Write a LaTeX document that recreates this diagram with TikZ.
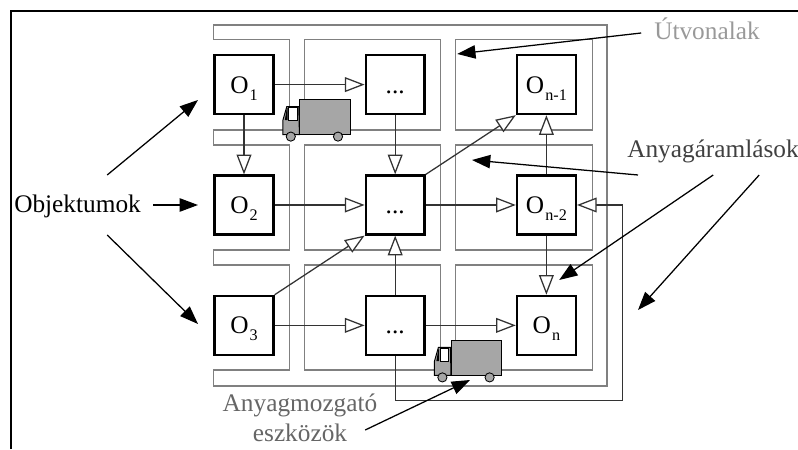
\documentclass[tikz,border=0pt]{standalone}
\usepackage{fontspec}
\setmainfont{Liberation Serif}
\usepackage{tikz}
\usetikzlibrary{arrows.meta, positioning}
\newcommand{\oidx}[1]{O\kern0.8pt\raisebox{-5pt}{\fontsize{11.5}{12}\selectfont #1}}

\begin{document}
\begin{tikzpicture}[
    every node/.style={font=\fontsize{18}{21.3}\selectfont},
    obj/.style={rectangle, draw=black, line width=1.7pt, fill=white, minimum width=1.47cm, minimum height=1.47cm, inner sep=0pt, text height=12pt, text depth=0pt, align=center},
    road/.style={draw=black!50, line width=0.9pt},
    flow/.style={-{Triangle[length=14pt, width=10.5pt, fill=white]}, draw=black!80, line width=0.9pt},
    hint/.style={-{Triangle[length=13pt, width=9.5pt]}, draw=black, line width=0.9pt},
    label/.style={inner sep=0pt},
    truck/.pic={
        \draw[fill=black!35, line width=0.7pt] (0,0) -- (0,0.35) -- (0.1,0.7) -- (0.4,0.7) -- (0.415,0) -- cycle;
        \draw[fill=white, line width=0.7pt] (0.14,0.36) rectangle (0.36,0.68);
        \fill[black] (0.05,0.36) -- (0.12,0.36) -- (0.12,0.66) -- (0.1,0.66) -- cycle;
        \draw[fill=black!35, line width=0.7pt] (0.415,0) rectangle (1.68,0.885);
        \draw[fill=black!35, line width=0.6pt] (0.2,-0.05) circle (0.115);
        \draw[fill=black!35, line width=0.6pt] (1.38,-0.05) circle (0.115);
    }
]
\useasboundingbox (0,0) rectangle (19.95,11.225);

% Keret
\draw[line width=1.4pt] (0.275,0) -- (0.275,10.95) -- (19.95,10.95);

% Utak
\draw[road] (5.34,10.6) -- (5.34,10.24) -- (7.24,10.24) -- (7.24,7.975) -- (5.34,7.975) -- (5.34,7.6) -- (7.24,7.6) -- (7.24,4.975) -- (5.34,4.975) -- (5.34,4.6) -- (7.24,4.6) -- (7.24,1.975) -- (5.34,1.975) -- (5.34,1.575) -- (15.175,1.575) -- (15.175,10.6) -- cycle;
\foreach \xa/\xb in {7.61/11.01, 11.39/14.81} {
    \draw[road] (\xa,7.975) rectangle (\xb,10.24);
    \draw[road] (\xa,4.975) rectangle (\xb,7.6);
    \draw[road] (\xa,1.975) rectangle (\xb,4.6);
}

% Objektumok
\node[obj] (oa) at (6.1,9.11) {\oidx{1}};
\node[obj, right=2.25cm of oa] (dab) {...};
\node[obj, right=2.25cm of dab] (onb) {\oidx{n-1}};
\node[obj, below=1.48cm of oa] (ob) {\oidx{2}};
\node[obj, right=2.25cm of ob] (dbb) {...};
\node[obj, right=2.25cm of dbb] (onc) {\oidx{n-2}};
\node[obj, below=1.48cm of ob] (oc) {\oidx{3}};
\node[obj, right=2.25cm of oc] (dcb) {...};
\node[obj, right=2.25cm of dcb] (ond) {\oidx{n}};

% Anyagáramlás
\draw[flow] (oa) -- (dab);
\draw[flow] (oa) -- (ob);
\draw[flow] (dab) -- (dbb);
\draw[flow] (ob) -- (dbb);
\draw[flow] (dbb) -- (onc);
\draw[flow] (dbb.north east) -- (onb.south west);
\draw[flow] (oc.north east) -- (dbb.south west);
\draw[flow] (dcb) -- (dbb);
\draw[flow] (oc) -- (dcb);
\draw[flow] (dcb) -- (ond);
\draw[flow] (onc) -- (onb);
\draw[flow] (onc) -- (ond);
\coordinate (bus) at (15.56,1.21);
\draw[flow] (dcb.south) |- (bus) |- (onc.east);

% Teherautók
\pic (trucka) at (7.07,7.86) {truck};
\pic (truckb) at (10.86,1.84) {truck};

% Feliratok
\node[label, anchor=base west] (objektumok) at (0.35,5.9) {Objektumok};
\node[label, anchor=base west, text=black!40] (utvonalak) at (16.35,10.225) {Útvonalak};
\node[label, anchor=base west, text=black!75] (aramlasok) at (15.675,7.275) {Anyagáramlások};
\node[label, align=center, text=black!60] (eszkozok) at (7.5,0.77) {Anyagmozgató\\eszközök};

% Mutatók
\coordinate (oup) at (2.68,6.85);
\coordinate (omid) at (3.83,6.1);
\coordinate (odn) at (2.68,5.35);
\coordinate (ta) at (4.95,8.725);
\coordinate (tb) at (4.95,6.1);
\coordinate (tc) at (4.95,3.125);
\draw[hint] (oup) -- (ta);
\draw[hint] (omid) -- (tb);
\draw[hint] (odn) -- (tc);
\coordinate (ustart) at (16.03,10.4);
\coordinate (utip) at (11.43,9.875);
\draw[hint] (ustart) -- (utip);
\coordinate (astart) at (15.95,6.85);
\coordinate (atip) at (11.8,7.225);
\draw[hint] (astart) -- (atip);
\coordinate (bstart) at (17.83,6.85);
\coordinate (btip) at (13.98,4.225);
\draw[hint] (bstart) -- (btip);
\coordinate (cstart) at (18.98,6.85);
\coordinate (ctip) at (15.95,3.475);
\draw[hint] (cstart) -- (ctip);
\coordinate (estart) at (9.13,0.475);
\coordinate (etip) at (11.75,1.725);
\draw[hint] (estart) -- (etip);
\end{tikzpicture}
\end{document}
